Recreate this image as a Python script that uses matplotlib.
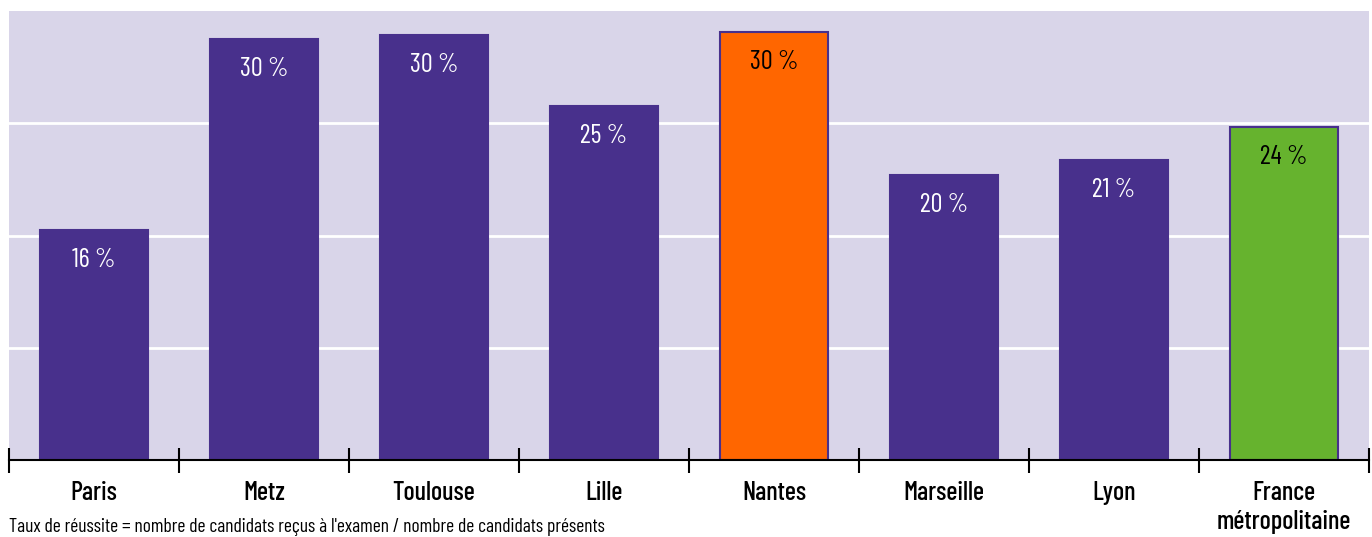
import matplotlib.pyplot as plt
import numpy as np

# data
villes = ['Paris', 'Metz', 'Toulouse', 'Lille', 'Nantes', 'Marseille', 'Lyon', 'France\nmétropolitaine']
taux = [16.4, 30.0, 30.3, 25.2, 30.5, 20.3, 21.4, 23.7]
etiquettes = ['16 %', '30 %', '30 %', '25 %', '30 %', '20 %', '21 %', '24 %']

violet = '#48308c'
fond = '#d9d5e9'
couleurs = [violet] * 8
couleurs[4] = '#ff6600'
couleurs[7] = '#66b32e'
texte_col = ['white'] * 8
texte_col[4] = 'black'
texte_col[7] = 'black'

plt.rcParams['font.family'] = ['Barlow Condensed', 'DejaVu Sans']
fig = plt.figure(figsize=(13.72, 5.37), dpi=100)
ax = fig.add_axes([9 / 1372, 1 - 460 / 537, 1360 / 1372, 449 / 537])
ax.set_facecolor(fond)

x = np.arange(len(villes))
ax.bar(x, taux, width=0.635, color=couleurs, edgecolor=violet, linewidth=1.5, zorder=3)
for xi, v, lab, c in zip(x, taux, etiquettes, texte_col):
    ax.annotate(lab, (xi, v), xytext=(0, -30), textcoords='offset pixels',
                ha='center', va='center', color=c, fontsize=19, zorder=4)

ax.set_xlim(-0.5, 7.5)
ax.set_ylim(0, 32)
ax.set_yticks([8, 16, 24])
ax.yaxis.grid(True, color='white', linewidth=2, zorder=1)
ax.tick_params(axis='y', left=False, labelleft=False)

ax.set_xticks(np.arange(-0.5, 8, 1))
ax.set_xticklabels([])
ax.set_xticks(x, minor=True)
ax.set_xticklabels(villes, minor=True, fontsize=19, fontweight=500, linespacing=1.25)
ax.tick_params(axis='x', which='major', direction='inout', length=18, width=1.5, color='black')
ax.tick_params(axis='x', which='minor', length=0, pad=15)

for s in ['top', 'right', 'left']:
    ax.spines[s].set_visible(False)
ax.spines['bottom'].set_linewidth(1.5)
ax.spines['bottom'].set_zorder(5)

fig.text(9 / 1372, 1 / 537,
         "Taux de réussite = nombre de candidats reçus à l'examen / nombre de candidats présents",
         ha='left', va='bottom', fontsize=14)

fig.savefig('out.png', dpi=100)
